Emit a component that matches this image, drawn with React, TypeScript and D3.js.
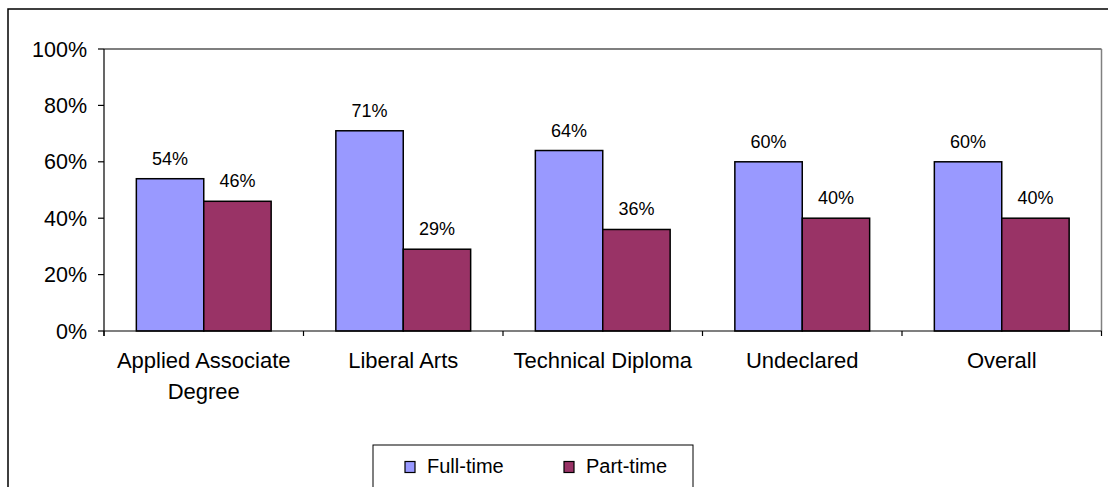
import React from "react";
import * as d3 from "d3";

const categories: string[][] = [
  ["Applied Associate", "Degree"],
  ["Liberal Arts"],
  ["Technical Diploma"],
  ["Undeclared"],
  ["Overall"],
];
const fullTime = [54, 71, 64, 60, 60];
const partTime = [46, 29, 36, 40, 40];
const yTicks = [0, 20, 40, 60, 80, 100];
const seriesNames = ["Full-time", "Part-time"];
const colors = ["#9999FF", "#993366"];

const W = 1108;
const H = 487;
const plot = { left: 104, top: 49, right: 1101.5, bottom: 331 };
const FONT = "'Liberation Sans', Arial, sans-serif";

export default function App() {
  const x = d3
    .scaleBand<number>()
    .domain(d3.range(categories.length))
    .range([plot.left, plot.right])
    .paddingInner(0)
    .paddingOuter(0);
  const inner = d3
    .scaleBand<number>()
    .domain([0, 1])
    .range([0, x.bandwidth()])
    .paddingInner(0)
    .paddingOuter(0.48);
  const y = d3.scaleLinear().domain([0, 100]).range([plot.bottom, plot.top]);
  const series = [fullTime, partTime];

  return (
    <svg
      width={W}
      height={H}
      style={{ position: "absolute", left: 0, top: 0, background: "#fff" }}
      fontFamily={FONT}
    >
      <rect x={0} y={0} width={W} height={H} fill="#fff" />
      {/* outer chart border */}
      <rect x={8} y={9} width={W + 20} height={H + 20} fill="none" stroke="#000" strokeWidth={1.5} />
      {/* plot area */}
      <line x1={plot.left} x2={plot.right} y1={plot.top} y2={plot.top} stroke="#000" strokeWidth={1.2} />
      <line x1={plot.right} x2={plot.right} y1={plot.top} y2={plot.bottom} stroke="#808080" strokeWidth={1.5} />

      {/* bars */}
      {series.map((vals, si) =>
        vals.map((v, ci) => {
          const bx = (x(ci) as number) + (inner(si) as number);
          const bw = inner.bandwidth();
          return (
            <g key={`${si}-${ci}`}>
              <rect
                x={bx}
                y={y(v)}
                width={bw}
                height={plot.bottom - y(v)}
                fill={colors[si]}
                stroke="#000"
                strokeWidth={1.5}
              />
              <text
                x={bx + bw / 2}
                y={y(v) - 14}
                textAnchor="middle"
                fontSize={18}
                fill="#000"
              >
                {v}%
              </text>
            </g>
          );
        })
      )}

      {/* y axis */}
      <line x1={plot.left} x2={plot.left} y1={plot.top} y2={plot.bottom + 5} stroke="#000" strokeWidth={1.2} />
      {yTicks.map((t) => (
        <g key={t}>
          <line x1={plot.left - 6} x2={plot.left} y1={y(t)} y2={y(t)} stroke="#000" strokeWidth={1.2} />
          <text x={87} y={y(t) + 7.5} textAnchor="end" fontSize={21.5} fill="#000">
            {t}%
          </text>
        </g>
      ))}

      {/* x axis */}
      <line x1={plot.left} x2={plot.right} y1={plot.bottom} y2={plot.bottom} stroke="#000" strokeWidth={1.2} />
      {d3.range(categories.length + 1).map((i) => {
        const tx = i < categories.length ? (x(i) as number) : plot.right;
        return <line key={i} x1={tx} x2={tx} y1={plot.bottom} y2={plot.bottom + 5} stroke="#000" strokeWidth={1.2} />;
      })}
      {categories.map((lines, ci) => (
        <text
          key={ci}
          x={(x(ci) as number) + x.bandwidth() / 2}
          textAnchor="middle"
          fontSize={22}
          fill="#000"
        >
          {lines.map((l, li) => (
            <tspan key={li} x={(x(ci) as number) + x.bandwidth() / 2} y={368 + li * 31}>
              {l}
            </tspan>
          ))}
        </text>
      ))}

      {/* legend */}
      <rect x={373} y={445} width={320} height={60} fill="#fff" stroke="#000" strokeWidth={1} />
      {seriesNames.map((name, i) => {
        const lx = i === 0 ? 405 : 564;
        return (
          <g key={name}>
            <rect x={lx} y={461.5} width={10} height={11} fill={colors[i]} stroke="#000" strokeWidth={1.2} />
            <text x={lx + 22} y={473} fontSize={20} fill="#000">
              {name}
            </text>
          </g>
        );
      })}
    </svg>
  );
}
